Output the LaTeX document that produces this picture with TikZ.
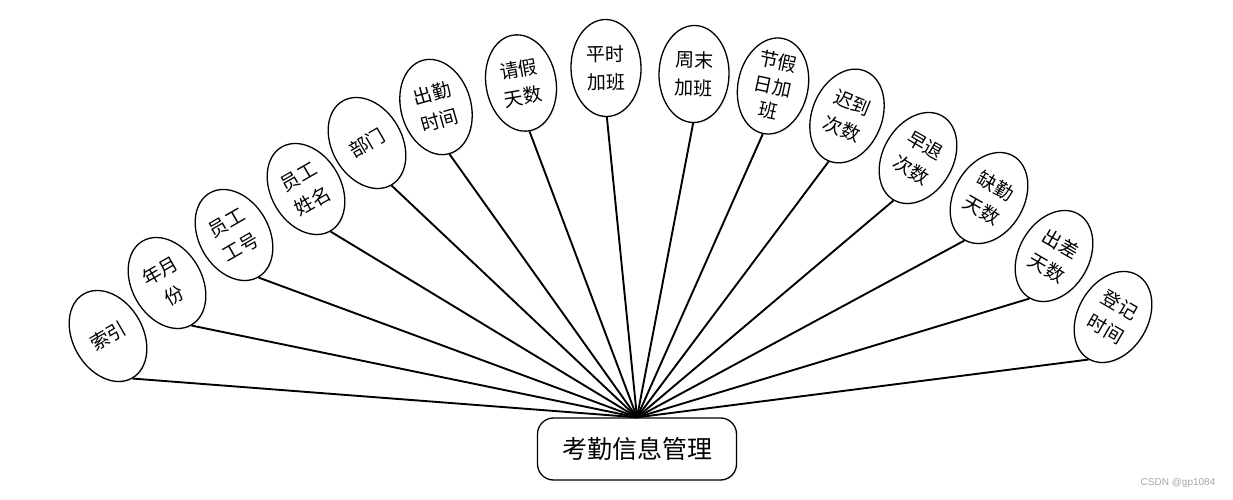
\documentclass[tikz,border=0pt]{standalone}
\usepackage{fontspec}
\newfontfamily\cjk{Noto Sans CJK SC}
\setsansfont{Liberation Sans}
\usetikzlibrary{shapes.geometric,shadows}

\tikzset{
  attr/.style={ellipse, draw, line width=1.3pt, fill=white,
    minimum width=70pt, minimum height=97pt, inner sep=0pt, align=center,
    font=\cjk\fontsize{19}{28}\selectfont,
    drop shadow={shadow xshift=1.5pt, shadow yshift=-1.5pt, opacity=0.35, fill=blue!12}},
  ent/.style={rectangle, rounded corners=16pt, draw, line width=1.3pt, fill=white,
    minimum width=199pt, minimum height=62pt, font=\cjk\fontsize{25}{28}\selectfont,
    drop shadow={shadow xshift=1.5pt, shadow yshift=-1.5pt, opacity=0.35, fill=blue!12}},
  link/.style={line width=1.9pt}
}

\begin{document}
\begin{tikzpicture}[x=1pt,y=1pt]
  \useasboundingbox (0,0) rectangle (1233,500);
  \node[ent] (kqxx) at (637,51) {考勤信息管理};
  % attributes, left to right
  \node[attr, rotate=30] (suoyin) at (108,164) {索引};
  \node[attr, rotate=30] (nyf) at (167,217) {年月\\份};
  \node[attr, rotate=30] (ghao) at (234,265) {员工\\工号};
  \node[attr, rotate=30] (xming) at (306,311) {员工\\姓名};
  \node[attr, rotate=30] (bumen) at (367,357) {部门};
  \node[attr, rotate=16] (cqsj) at (436,393) {出勤\\时间};
  \node[attr, rotate=10] (qjts) at (521,417) {请假\\天数};
  \node[attr, rotate=1] (psjb) at (606,432) {平时\\加班};
  \node[attr, rotate=-1] (zmjb) at (694,426) {周末\\加班};
  \node[attr, rotate=-12, inner ysep=-6pt, font=\cjk\fontsize{19}{25}\selectfont] (jjrjb) at (773,414) {节假\\日加\\班};
  \node[attr, rotate=-22] (cdcs) at (847,384) {迟到\\次数};
  \node[attr, rotate=-30] (ztcs) at (918,342) {早退\\次数};
  \node[attr, rotate=-30] (qqts) at (989,302) {缺勤\\天数};
  \node[attr, rotate=-30] (ccts) at (1054,244) {出差\\天数};
  \node[attr, rotate=-30] (djsj) at (1113,183) {登记\\时间};
  \foreach \a in {suoyin,nyf,ghao,xming,bumen,cqsj,qjts,psjb,zmjb,jjrjb,cdcs,ztcs,qqts,ccts,djsj}
    \draw[link] (kqxx.north) -- (\a.south);
  \node[text=gray!70, font=\sffamily\fontsize{10}{12}\selectfont] (mark) at (1178,17) {CSDN @gp1084};
\end{tikzpicture}
\end{document}
